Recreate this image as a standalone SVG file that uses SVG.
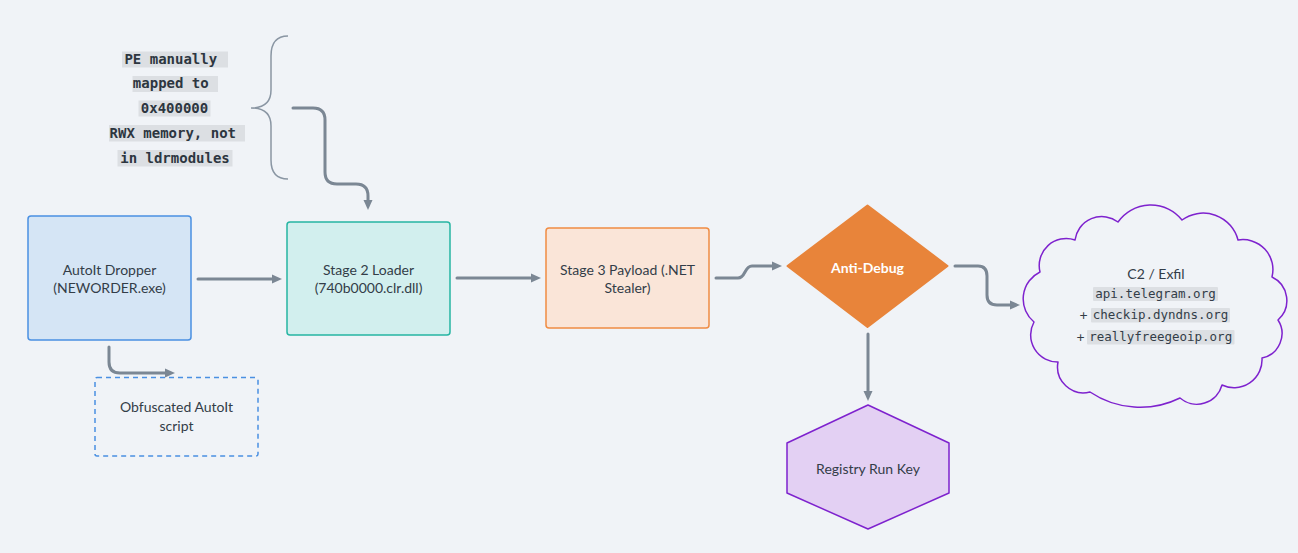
<svg xmlns="http://www.w3.org/2000/svg" width="1298" height="553" viewBox="0 0 1298 553">
<style>
.lbl{font-family:Lato,"Liberation Sans",sans-serif;font-size:14px;fill:#333d48;text-anchor:middle}
.bold{font-weight:bold;fill:#ffffff}
.note{font-family:"DejaVu Sans Mono","Liberation Mono",monospace;font-size:14px;font-weight:bold;fill:#2d3640;text-anchor:middle}
.code{font-family:"DejaVu Sans Mono","Liberation Mono",monospace;font-size:12.5px;fill:#333d48;text-anchor:middle}
.codebg{fill:#dcdfe3}
.conn{fill:none;stroke:#7b8794;stroke-width:3;stroke-linecap:round;stroke-linejoin:round}
</style>
<defs>
<marker id="ah" viewBox="0 0 10 10" refX="4" refY="5" markerWidth="10" markerHeight="10" markerUnits="userSpaceOnUse" orient="auto">
<path d="M0,0.5 L10,5 L0,9.5 z" fill="#7b8794"/>
</marker>
</defs>
<rect x="0" y="0" width="1298" height="553" fill="#f0f3f7"/>

<g id="note">
<rect class="codebg" x="122" y="51.5" width="106" height="16"/>
<rect class="codebg" x="132.5" y="76" width="85.5" height="16"/>
<rect class="codebg" x="138.5" y="100.5" width="72" height="16"/>
<rect class="codebg" x="109" y="125" width="136" height="16.5"/>
<rect class="codebg" x="117.5" y="150" width="115" height="16.5"/>
<text class="note" xml:space="preserve" x="175" y="63.5">PE manually </text>
<text class="note" xml:space="preserve" x="175" y="88">mapped to </text>
<text class="note" x="174.5" y="112.5">0x400000</text>
<text class="note" xml:space="preserve" x="177" y="137.5">RWX memory, not </text>
<text class="note" x="175" y="162.5">in ldrmodules</text>
<path d="M288 36 Q271 36 271 56 V90 Q271 108 251 108 Q271 108 271 126 V160 Q271 179 288 179" fill="none" stroke="#8a96a3" stroke-width="1.5"/>
</g>

<g id="dropper">
<rect x="28" y="216" width="163" height="124" rx="3" fill="#d5e5f5" stroke="#4a90e2" stroke-width="1.5"/>
<text class="lbl" x="109.5" y="275">AutoIt Dropper</text>
<text class="lbl" x="109.5" y="293">(NEWORDER.exe)</text>
</g>

<g id="obfuscated">
<rect x="95" y="377.5" width="163" height="78.5" rx="2" fill="none" stroke="#4a90e2" stroke-width="1.5" stroke-dasharray="5,4"/>
<text class="lbl" x="176.5" y="412">Obfuscated AutoIt</text>
<text class="lbl" x="176.5" y="430.5">script</text>
</g>

<g id="stage2">
<rect x="287" y="222" width="163" height="113" rx="3" fill="#d2efee" stroke="#26b5a3" stroke-width="1.5"/>
<text class="lbl" x="368.5" y="275">Stage 2 Loader</text>
<text class="lbl" x="368.5" y="293">(740b0000.clr.dll)</text>
</g>

<g id="stage3">
<rect x="546" y="228" width="163" height="100" rx="3" fill="#fae5d8" stroke="#f08c43" stroke-width="1.5"/>
<text class="lbl" x="627.5" y="275">Stage 3 Payload (.NET</text>
<text class="lbl" x="627.5" y="293">Stealer)</text>
</g>

<g id="antidebug">
<path d="M867.5 205.5 L947.5 266 L867.5 327 L787.5 266 Z" fill="#e8843a" stroke="#e8843a" stroke-width="2" stroke-linejoin="round"/>
<text class="lbl bold" x="867.5" y="272.5">Anti-Debug</text>
</g>

<g id="registry">
<path d="M868 405 L949 443 L949 493 L868 529 L787 493 L787 443 Z" fill="#e3d0f3" stroke="#7e22ce" stroke-width="1.5" stroke-linejoin="round"/>
<text class="lbl" x="868" y="474">Registry Run Key</text>
</g>

<g id="c2">
<path d="M1040 272 A27 27 0 0 1 1075 240 A27 27 0 0 1 1118 222 A40 40 0 0 1 1182 220 A36 36 0 0 1 1238 240 A30 30 0 0 1 1272 277 A26 26 0 0 1 1278 320 A25 25 0 0 1 1262 358 A28 28 0 0 1 1222 385 A26 26 0 0 1 1180 398 A90 90 0 0 1 1090 392 A26 26 0 0 1 1058 362 A27 27 0 0 1 1034 322 A30 30 0 0 1 1040 272 Z" fill="#f0f3f7" stroke="#7e22ce" stroke-width="1.5" stroke-linejoin="round"/>
<text class="lbl" x="1156" y="278.5">C2 / Exfil</text>
<rect class="codebg" x="1093" y="287" width="125" height="14" rx="1"/>
<text class="code" x="1155.5" y="298">api.telegram.org</text>
<text class="lbl" x="1083.5" y="319.5">+</text>
<rect class="codebg" x="1091" y="308" width="139" height="14.5" rx="1"/>
<text class="code" x="1160.5" y="319">checkip.dyndns.org</text>
<text class="lbl" x="1080.5" y="341.5">+</text>
<rect class="codebg" x="1087" y="330" width="147.5" height="14.5" rx="1"/>
<text class="code" x="1160.7" y="341">reallyfreegeoip.org</text>
</g>

<g id="connectors">
<path class="conn" marker-end="url(#ah)" d="M293 108 H313 Q325 108 325 120 V172 Q325 184 337 184 H356 Q368 184 368 196 V204"/>
<path class="conn" marker-end="url(#ah)" d="M198 279 H276"/>
<path class="conn" marker-end="url(#ah)" d="M109 347 V362 Q109 373 120 373 H169"/>
<path class="conn" marker-end="url(#ah)" d="M457 278 H535"/>
<path class="conn" marker-end="url(#ah)" d="M716 278 H738 C746 278 744 266 752 266 H776"/>
<path class="conn" marker-end="url(#ah)" d="M868 334 V395"/>
<path class="conn" marker-end="url(#ah)" d="M955 266 H978 Q987 266 987 276 V295 Q987 305 997 305 H1014"/>
</g>
</svg>
